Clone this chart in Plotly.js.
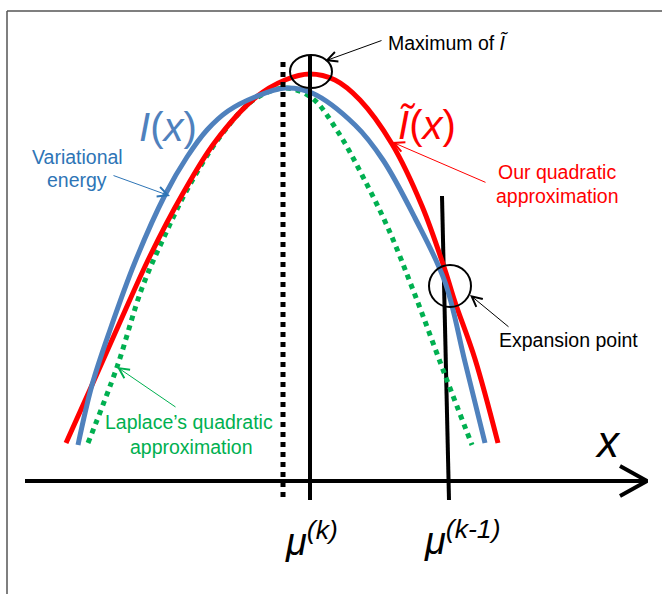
<!DOCTYPE html>
<html>
<head>
<meta charset="utf-8">
<script src="https://cdn.plot.ly/plotly-3.0.1.min.js"></script>
<style>html,body{margin:0;padding:0;background:#fff;}#chart{width:662px;height:594px;}</style>
</head>
<body>
<div id="chart"></div>
<script>
// Horizontal position (x) and height above the x axis (h)
const redX   = [66, 92, 120, 150, 182, 215, 255, 285, 310, 335, 360, 392, 422, 445, 455, 475, 498];
const redH   = [38, 96, 159, 225, 286, 339, 383, 401, 407, 401, 381, 337, 275, 211, 179, 122, 38];
const blueX  = [78, 92, 110, 135, 165, 187, 207, 228, 255, 285, 312, 355, 383, 415, 445, 465, 485];
const blueH  = [36, 96, 151, 219, 286, 324, 351, 370, 384, 393, 388, 356, 321, 263, 199, 119, 38];
const greenX = [88, 117, 142, 165, 188, 222, 255, 285, 312, 338, 362, 388, 415, 445, 472];
const greenH = [38, 114, 193, 246, 293, 347, 382, 393, 383, 349, 306, 253, 186, 106, 36];

// Reference positions
const muK = 310;            // mu^(k), maximum of the quadratic approximation
const muLaplace = 283;      // mode of I(x)
const muPrevX = [442, 449]; // mu^(k-1), expansion point line
const muPrevH = [285, -19];
const axisX = [25, 647];

const lineTop = 426, lineBottom = -19;
const dotTop = 419, dotBottom = -16;

const FONT = 'Liberation Sans, Arial, sans-serif';
const BLUE = '#4f81bd', RED = '#ff0000', GREEN = '#00b050', TXTBLUE = '#2e75b6';
const LBL = 19.5;

const traces = [
  {x: muPrevX, y: muPrevH, mode: 'lines', line: {color: '#000', width: 4}},
  {x: greenX, y: greenH, mode: 'lines', line: {color: GREEN, width: 5, dash: 'dot', shape: 'spline', smoothing: 1}},
  {x: redX, y: redH, mode: 'lines', line: {color: RED, width: 5, shape: 'spline', smoothing: 1}},
  {x: blueX, y: blueH, mode: 'lines', line: {color: BLUE, width: 5, shape: 'spline', smoothing: 1}},
  {x: [muK, muK], y: [lineTop, lineBottom], mode: 'lines', line: {color: '#000', width: 4}},
  {x: [muLaplace, muLaplace], y: [dotTop, dotBottom], mode: 'lines', line: {color: '#000', width: 5, dash: 'dot'}},
  {x: axisX, y: [0, 0], mode: 'lines', line: {color: '#000', width: 4}},
  {x: [axisX[1] - 27, axisX[1], axisX[1] - 27], y: [15, 0, -15], mode: 'lines', line: {color: '#000', width: 4}}
].map(t => Object.assign({hoverinfo: 'skip'}, t));

function txt(x, y, text, size, color, extra) {
  return Object.assign({x: x, y: y, xref: 'x', yref: 'y', text: text, showarrow: false,
    font: {family: FONT, size: size, color: color}, xanchor: 'center', yanchor: 'middle'}, extra || {});
}
function arrow(tx, ty, hx, hy, color) {
  return {x: hx, y: hy, ax: tx, ay: ty, xref: 'x', yref: 'y', axref: 'x', ayref: 'y', text: '',
    showarrow: true, arrowhead: 5, arrowsize: 2, arrowwidth: 1, arrowcolor: color};
}

const annotations = [
  txt(386, 439, 'Maximum of <i>Ĩ</i>', LBL, '#000', {xanchor: 'left'}),
  arrow(383, 441, 325, 420, '#000'),
  txt(77, 324, 'Variational', LBL, TXTBLUE),
  txt(77, 301, 'energy', LBL, TXTBLUE),
  arrow(112, 306, 170, 285, TXTBLUE),
  txt(557, 309, 'Our quadratic', LBL, RED),
  txt(557, 285, 'approximation', LBL, RED),
  arrow(487, 298, 392, 339, RED),
  txt(497, 141, 'Expansion point', LBL, '#000', {xanchor: 'left'}),
  arrow(510, 153, 470, 186, '#000'),
  txt(189, 59, 'Laplace’s quadratic', LBL, GREEN),
  txt(191, 34, 'approximation', LBL, GREEN),
  arrow(177, 73, 117, 114, GREEN),
  txt(168, 354, '<i>I</i>(<i>x</i>)', 40, BLUE),
  txt(427, 356, '<i>Ĩ</i>(<i>x</i>)', 40, RED),
  txt(608, 40, '<i>x</i>', 44, '#000'),
  txt(311, -58, '<i>μ<sup>(k)</sup></i>', 38, '#000'),
  txt(462, -57, '<i>μ<sup>(k-1)</sup></i>', 38, '#000')
];

const shapes = [
  {type: 'circle', xref: 'x', yref: 'y', x0: 290, x1: 332, y0: 393, y1: 426, line: {color: '#000', width: 2}, layer: 'above'},
  {type: 'circle', xref: 'x', yref: 'y', x0: 429, x1: 471, y0: 174, y1: 216, line: {color: '#000', width: 2}, layer: 'above'},
  {type: 'line', xref: 'x', yref: 'y', x0: 7, x1: 662, y0: 470, y1: 470, line: {color: '#555', width: 1.5}},
  {type: 'line', xref: 'x', yref: 'y', x0: 7, x1: 7, y0: 470, y1: -113, line: {color: '#555', width: 1.5}}
];

const layout = {
  width: 662, height: 594,
  margin: {l: 0, r: 0, t: 0, b: 0},
  paper_bgcolor: '#fff', plot_bgcolor: '#fff',
  showlegend: false,
  xaxis: {range: [0, 662], visible: false, fixedrange: true},
  yaxis: {range: [-113, 481], visible: false, fixedrange: true},
  annotations: annotations,
  shapes: shapes
};

Plotly.newPlot('chart', traces, layout, {staticPlot: true});
</script>
</body>
</html>
